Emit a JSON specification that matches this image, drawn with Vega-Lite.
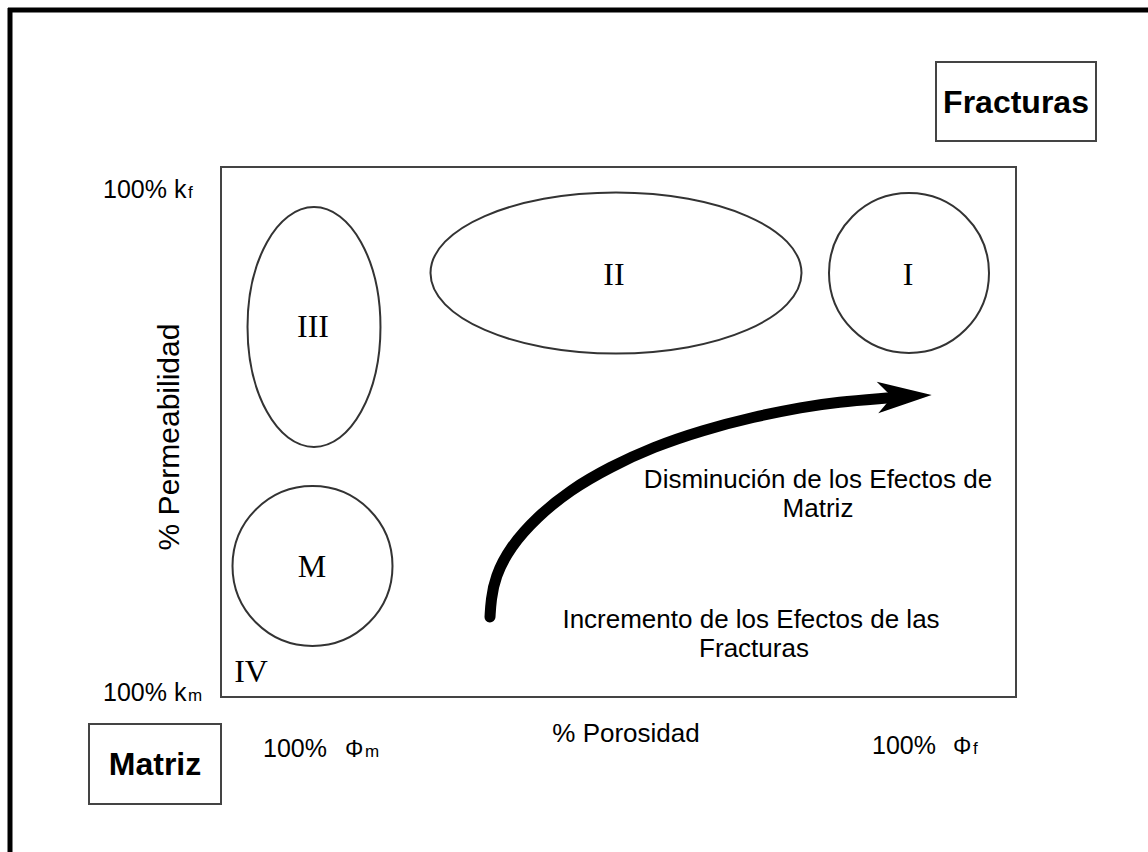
{
  "$schema": "https://vega.github.io/schema/vega-lite/v6.json",
  "width": 1148,
  "height": 852,
  "autosize": "none",
  "padding": 0,
  "background": "white",
  "config": {"view": {"stroke": null}},
  "encoding": {
    "x": {"field": "x", "type": "quantitative", "scale": {"domain": [0, 1148], "nice": false, "zero": false}, "axis": null},
    "y": {"field": "y", "type": "quantitative", "scale": {"domain": [0, 852], "reverse": true, "nice": false, "zero": false}, "axis": null}
  },
  "layer": [
    {
      "data": {"values": [{"x": 8, "x2": 1148, "y": 10}]},
      "mark": {"type": "rule", "color": "#000", "strokeWidth": 5},
      "encoding": {"x2": {"field": "x2"}}
    },
    {
      "data": {"values": [{"x": 10, "y": 8, "y2": 852}]},
      "mark": {"type": "rule", "color": "#000", "strokeWidth": 5},
      "encoding": {"y2": {"field": "y2"}}
    },
    {
      "data": {"values": [
        {"name": "plot", "x": 221, "x2": 1016, "y": 167, "y2": 697},
        {"name": "Fracturas", "x": 936, "x2": 1096, "y": 62, "y2": 141},
        {"name": "Matriz", "x": 89, "x2": 221, "y": 724, "y2": 804}
      ]},
      "mark": {"type": "rect", "fill": "white", "fillOpacity": 0, "stroke": "#444", "strokeWidth": 2},
      "encoding": {"x2": {"field": "x2"}, "y2": {"field": "y2"}}
    },
    {
      "data": {"values": [{"zone": "III", "x": 314, "y": 327}]},
      "mark": {"type": "point", "filled": false, "opacity": 1, "stroke": "#333", "strokeWidth": 2, "size": 57600,
        "shape": "M 0.554 0 C 0.554 0.5523 0.306 1 0 1 C -0.306 1 -0.554 0.5523 -0.554 0 C -0.554 -0.5523 -0.306 -1 0 -1 C 0.306 -1 0.554 -0.5523 0.554 0 Z"}
    },
    {
      "data": {"values": [{"zone": "II", "x": 616, "y": 273}]},
      "mark": {"type": "point", "filled": false, "opacity": 1, "stroke": "#333", "strokeWidth": 2, "size": 137641,
        "shape": "M 1 0 C 1 0.2397 0.5523 0.434 0 0.434 C -0.5523 0.434 -1 0.2397 -1 0 C -1 -0.2397 -0.5523 -0.434 0 -0.434 C 0.5523 -0.434 1 -0.2397 1 0 Z"}
    },
    {
      "data": {"values": [{"zone": "I", "x": 909, "y": 273}, {"zone": "M", "x": 312.5, "y": 566}]},
      "mark": {"type": "point", "filled": false, "opacity": 1, "stroke": "#333", "strokeWidth": 2, "size": 25600,
        "shape": "M 1 0 C 1 0.5523 0.5523 1 0 1 C -0.5523 1 -1 0.5523 -1 0 C -1 -0.5523 -0.5523 -1 0 -1 C 0.5523 -1 1 -0.5523 1 0 Z"}
    },
    {
      "data": {"values": [
        {"x": 490, "y": 617}, {"x": 491, "y": 600}, {"x": 495, "y": 577}, {"x": 510, "y": 547},
        {"x": 537, "y": 517}, {"x": 570, "y": 490}, {"x": 610, "y": 467}, {"x": 653, "y": 447},
        {"x": 703, "y": 430}, {"x": 753, "y": 417}, {"x": 803, "y": 407}, {"x": 837, "y": 402},
        {"x": 887, "y": 398}
      ]},
      "mark": {"type": "line", "color": "#000", "strokeWidth": 11, "strokeCap": "round", "interpolate": "basis"}
    },
    {
      "data": {"values": [{"x": 905, "y": 397}]},
      "mark": {"type": "point", "filled": true, "opacity": 1, "color": "#000", "strokeWidth": 0, "size": 3136,
        "shape": "M 0.953 -0.071 L -1.01 -0.546 L -0.596 -0.132 L -0.654 0.225 L -0.954 0.582 Z"}
    },
    {
      "data": {"values": [
        {"label": "III", "x": 313, "y": 337},
        {"label": "II", "x": 614, "y": 285},
        {"label": "I", "x": 908, "y": 285},
        {"label": "M", "x": 312, "y": 577},
        {"label": "IV", "x": 251, "y": 682}
      ]},
      "mark": {"type": "text", "font": "Liberation Serif", "fontSize": 32, "align": "center", "baseline": "alphabetic", "color": "#000"},
      "encoding": {"text": {"field": "label"}}
    },
    {
      "data": {"values": [
        {"label": "Fracturas", "x": 1016, "y": 113},
        {"label": "Matriz", "x": 155, "y": 775}
      ]},
      "mark": {"type": "text", "font": "Liberation Sans", "fontSize": 32, "fontWeight": "bold", "align": "center", "baseline": "alphabetic", "color": "#000"},
      "encoding": {"text": {"field": "label"}}
    },
    {
      "data": {"values": [
        {"label": "Disminución de los Efectos de", "x": 818, "y": 488},
        {"label": "Matriz", "x": 818, "y": 517},
        {"label": "Incremento de los Efectos de las", "x": 751, "y": 628},
        {"label": "Fracturas", "x": 754, "y": 657},
        {"label": "% Porosidad", "x": 626, "y": 742}
      ]},
      "mark": {"type": "text", "font": "Liberation Sans", "fontSize": 26, "align": "center", "baseline": "alphabetic", "color": "#000"},
      "encoding": {"text": {"field": "label"}}
    },
    {
      "data": {"values": [{"label": "% Permeabilidad", "x": 179, "y": 437}]},
      "mark": {"type": "text", "font": "Liberation Sans", "fontSize": 30, "align": "center", "baseline": "alphabetic", "angle": 270, "color": "#000"},
      "encoding": {"text": {"field": "label"}}
    },
    {
      "data": {"values": [
        {"label": "100% k", "x": 103, "y": 198},
        {"label": "100% k", "x": 103, "y": 701},
        {"label": "100%", "x": 263, "y": 757},
        {"label": "100%", "x": 872, "y": 754}
      ]},
      "mark": {"type": "text", "font": "Liberation Sans", "fontSize": 25, "align": "left", "baseline": "alphabetic", "color": "#000"},
      "encoding": {"text": {"field": "label"}}
    },
    {
      "data": {"values": [
        {"label": "Φ", "x": 345, "y": 757},
        {"label": "Φ", "x": 953, "y": 754}
      ]},
      "mark": {"type": "text", "font": "Liberation Sans", "fontSize": 23, "align": "left", "baseline": "alphabetic", "color": "#000"},
      "encoding": {"text": {"field": "label"}}
    },
    {
      "data": {"values": [
        {"label": "f", "x": 188, "y": 198},
        {"label": "m", "x": 188, "y": 701},
        {"label": "m", "x": 365, "y": 757},
        {"label": "f", "x": 973, "y": 754}
      ]},
      "mark": {"type": "text", "font": "Liberation Sans", "fontSize": 17, "align": "left", "baseline": "alphabetic", "color": "#000"},
      "encoding": {"text": {"field": "label"}}
    }
  ]
}
